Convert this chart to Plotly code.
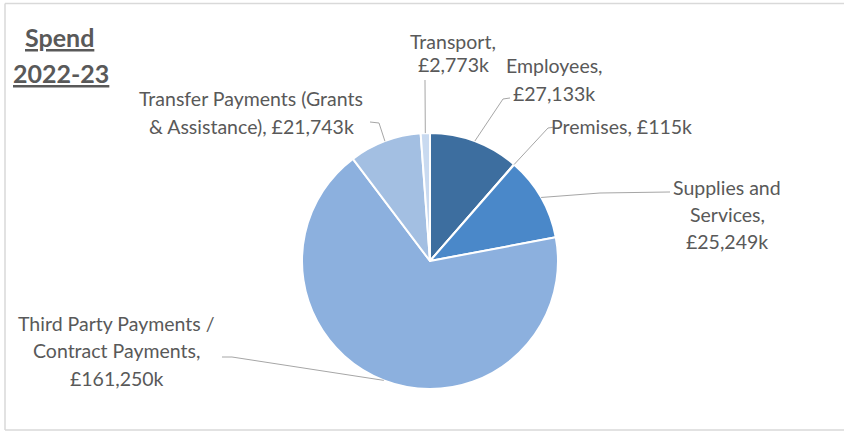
import math
import plotly.graph_objects as go

# Spend 2022-23 by category (£k), clockwise from 12 o'clock
categories = ["Employees", "Premises", "Supplies and Services",
              "Third Party Payments / Contract Payments",
              "Transfer Payments (Grants & Assistance)", "Transport"]
values = [27133, 115, 25249, 161250, 21743, 2773]
colors = ["#3d6e9f", "#2f6fae", "#4a88c9", "#8cb0de", "#a3bfe2", "#c9daf0"]

# label lines per category; "{v}" is replaced with the formatted value
label_lines = [
    ["Employees,", "{v}"],
    ["Premises, {v}"],
    ["Supplies and", "Services,", "{v}"],
    ["Third Party Payments /", "Contract Payments,", "{v}"],
    ["Transfer Payments (Grants", "& Assistance), {v}"],
    ["Transport,", "{v}"],
]

W, H = 844, 432
CX, CY, R = 430, 261, 128          # pie centre and radius in px

# label block centres (px) and line spacing
label_pos = [(554, 65), (621, 126), (727, 187), (117, 323), (251, 99), (453, 42)]
line_gap = [28, 0, 27, 27.5, 28, 22]
# leader line bend / end points (px), the start is on the pie edge
leader_pts = [
    [(503, 99), (510, 98)],
    [(548, 128), (555, 127)],
    [(600, 193), (670, 192)],
    [(232, 357), (222, 357)],
    [(379, 123), (370, 122)],
    [(425, 80)],
]

FONT = "Lato"
TXT = "#595959"


def px(x):
    return x / W


def py(y):
    return 1 - y / H


fig = go.Figure(go.Pie(
    labels=categories, values=values, sort=False, direction="clockwise",
    rotation=0, textinfo="none", hoverinfo="label+value",
    marker=dict(colors=colors, line=dict(color="white", width=2)),
    domain=dict(x=[px(CX - R), px(CX + R)], y=[py(CY + R), py(CY - R)]),
    showlegend=False,
))

total = sum(values)
cum = 0
annotations = []
shapes = []
for i, v in enumerate(values):
    mid = (cum + v / 2) / total
    cum += v
    ang = 2 * math.pi * mid
    ex, ey = CX + R * math.sin(ang), CY - R * math.cos(ang)
    pts = [(ex, ey)] + leader_pts[i]
    path = "M " + " L ".join(f"{px(x):.5f},{py(y):.5f}" for x, y in pts)
    shapes.append(dict(type="path", xref="paper", yref="paper", path=path,
                       line=dict(color="#a6a6a6", width=1)))
    lx, ly = label_pos[i]
    for k, ln in enumerate(label_lines[i]):
        text = ln.replace("{v}", f"£{v:,}k")
        annotations.append(dict(
            x=px(lx), y=py(ly + k * line_gap[i]), xref="paper", yref="paper",
            text=text, showarrow=False, xanchor="center", yanchor="middle",
            font=dict(family=FONT, size=19.5, color=TXT)))

# title block
for t, (tx, ty) in zip(["Spend", "2022-23"], [(59, 37), (61, 73)]):
    annotations.append(dict(
        x=px(tx), y=py(ty), xref="paper", yref="paper",
        text=f"<u><b>{t}</b></u>", showarrow=False, xanchor="center",
        yanchor="middle", font=dict(family=FONT, size=25, color=TXT)))

# chart area border (top, left, bottom edges)
for x0, y0, x1, y1 in [(5, 3.5, W, 3.5), (5, 3.5, 5, 430), (5, 430, W, 430)]:
    shapes.append(dict(type="line", xref="paper", yref="paper",
                       x0=px(x0), y0=py(y0), x1=px(x1), y1=py(y1),
                       line=dict(color="#d9d9d9", width=1.5)))

fig.update_layout(
    width=W, height=H, margin=dict(l=0, r=0, t=0, b=0),
    paper_bgcolor="white", plot_bgcolor="white",
    annotations=annotations, shapes=shapes,
)

fig.write_html("out.html")
